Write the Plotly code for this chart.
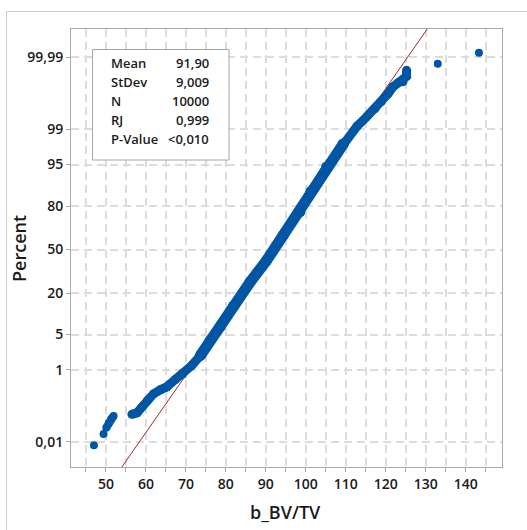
import plotly.graph_objects as go
from statistics import NormalDist

_nd = NormalDist()


def zq(p):
    """percent -> normal quantile (probability-paper axis)"""
    return _nd.inv_cdf(p / 100.0)


# ---------------- data ----------------
tail_low_x = [47.0, 49.4]
tail_low_pct = [0.0075, 0.0178]

cluster_low_x = [50.1, 50.7, 51.3, 51.9]
cluster_low_pct = [0.028, 0.039, 0.052, 0.064]

band_x = [56.5, 57.8, 59.0, 60.4, 61.9, 63.6, 65.2, 67.3, 69.2, 71.5, 73.6,
          76.05, 78.55, 81.9, 86.05, 90.2, 94.4, 98.5, 101.3, 105.2, 109.4,
          112.8, 115.2, 117.3, 118.9, 120.6, 121.8, 123.1, 124.3, 125.2, 125.2]
band_pct = [0.071, 0.079, 0.114, 0.175, 0.26, 0.33, 0.39, 0.59, 0.8, 1.25, 2.0,
            3.9, 6.7, 13.7, 26.4, 41.7, 61.0, 76.7, 87.0, 94.5, 97.98,
            99.15, 99.49, 99.68, 99.79, 99.874, 99.918, 99.938, 99.942, 99.960, 99.974]

tail_high_x = [133.0, 143.3]
tail_high_pct = [99.984, 99.993]

stat_labels = ["Mean", "StDev", "N", "RJ", "P-Value"]
stat_values = ["91,90", "9,009", "10000", "0,999", "<0,010"]
fit_mean = 91.90
fit_sd = 9.009

y_tick_pct = [0.01, 1, 5, 20, 50, 80, 95, 99, 99.99]
y_tick_text = ["0,01", "1", "5", "20", "50", "80", "95", "99", "99,99"]

x_range = [41.26, 149.07]
z_range = [-4.21, 4.27]

# ---------------- styling ----------------
BLUE = "#0055a5"
RED = "#a3262a"
GRID = "#dcdcdc"
AXLINE = "#a8a8a8"
TXT = "#1a1a1a"
FONT = "Open Sans"

band_z = [zq(p) for p in band_pct]

fig = go.Figure()

# fitted line
fig.add_trace(go.Scatter(
    x=[fit_mean + fit_sd * z_range[0], fit_mean + fit_sd * z_range[1]],
    y=z_range, mode="lines", line=dict(color=RED, width=1),
    hoverinfo="skip", showlegend=False))

# dense band of points (whole band, then the thicker central part)
fig.add_trace(go.Scatter(
    x=band_x, y=band_z, mode="lines+markers",
    line=dict(color=BLUE, width=9), marker=dict(color=BLUE, size=9),
    showlegend=False))
mid = slice(10, 21)
fig.add_trace(go.Scatter(
    x=band_x[mid], y=band_z[mid], mode="lines+markers",
    line=dict(color=BLUE, width=11), marker=dict(color=BLUE, size=11),
    showlegend=False, hoverinfo="skip"))
fig.add_trace(go.Scatter(
    x=cluster_low_x, y=[zq(p) for p in cluster_low_pct], mode="lines+markers",
    line=dict(color=BLUE, width=8), marker=dict(color=BLUE, size=8),
    showlegend=False))
fig.add_trace(go.Scatter(
    x=tail_low_x + tail_high_x,
    y=[zq(p) for p in tail_low_pct + tail_high_pct], mode="markers",
    marker=dict(color=BLUE, size=8), showlegend=False))

grid_common = dict(showgrid=True, gridcolor=GRID, gridwidth=1.5, griddash="8px,5px")

fig.update_xaxes(
    range=x_range, tickmode="linear", tick0=50, dtick=10,
    ticks="outside", ticklen=4, tickcolor=AXLINE,
    showline=True, linecolor=AXLINE, linewidth=1, mirror=True, zeroline=False,
    tickfont=dict(family=FONT, size=14, color=TXT, weight=600),
    minor=dict(tick0=45, dtick=5, ticks="outside", ticklen=4, tickcolor=AXLINE,
               showgrid=True, gridcolor=GRID, gridwidth=1.5, griddash="8px,5px"),
    **grid_common)
fig.update_yaxes(
    range=z_range, tickmode="array", tickvals=[zq(p) for p in y_tick_pct],
    ticktext=y_tick_text, ticks="outside", ticklen=4, tickcolor=AXLINE,
    showline=True, linecolor=AXLINE, linewidth=1, mirror=True, zeroline=False,
    tickfont=dict(family=FONT, size=14, color=TXT, weight=600),
    **grid_common)

L, R, T, B = 71, 25, 29, 63
W, H = 527, 530
PW, PH = W - L - R, H - T - B


def px(xp):
    return (xp - L) / PW


def py(yp):
    return 1 - (yp - T) / PH


shapes = [
    # outer frame (partially cropped in the reference)
    dict(type="rect", xref="paper", yref="paper", x0=px(6.5), x1=px(600),
         y0=py(600), y1=py(11.5), line=dict(color="#cfcfcf", width=1), layer="below"),
    # stats box
    dict(type="rect", xref="paper", yref="paper", x0=px(92.5), x1=px(229),
         y0=py(160), y1=py(49.5), line=dict(color="#a6a6a6", width=1),
         fillcolor="white", layer="above"),
]

annotations = []
row_y = [63, 82, 101, 120, 139]
for lab, val, yy in zip(stat_labels, stat_values, row_y):
    annotations.append(dict(x=px(109), y=py(yy), xref="paper", yref="paper",
                            text=lab, showarrow=False, xanchor="left", yanchor="middle",
                            font=dict(family=FONT, size=13, color=TXT, weight=600)))
    annotations.append(dict(x=px(210.5), y=py(yy), xref="paper", yref="paper",
                            text=val, showarrow=False, xanchor="right", yanchor="middle",
                            font=dict(family=FONT, size=13, color=TXT, weight=600)))

annotations.append(dict(x=px(19), y=py(249), xref="paper", yref="paper", text="Percent",
                        textangle=-90, showarrow=False, xanchor="center", yanchor="middle",
                        font=dict(family=FONT, size=18, color=TXT, weight=600)))
annotations.append(dict(x=px(285), y=py(512), xref="paper", yref="paper", text="b_BV/TV",
                        showarrow=False, xanchor="center", yanchor="middle",
                        font=dict(family=FONT, size=18, color=TXT, weight=600)))

fig.update_layout(
    width=W, height=H, margin=dict(l=L, r=R, t=T, b=B, pad=0),
    paper_bgcolor="white", plot_bgcolor="white",
    shapes=shapes, annotations=annotations, showlegend=False,
    font=dict(family=FONT, color=TXT))

fig.write_html("out.html")
